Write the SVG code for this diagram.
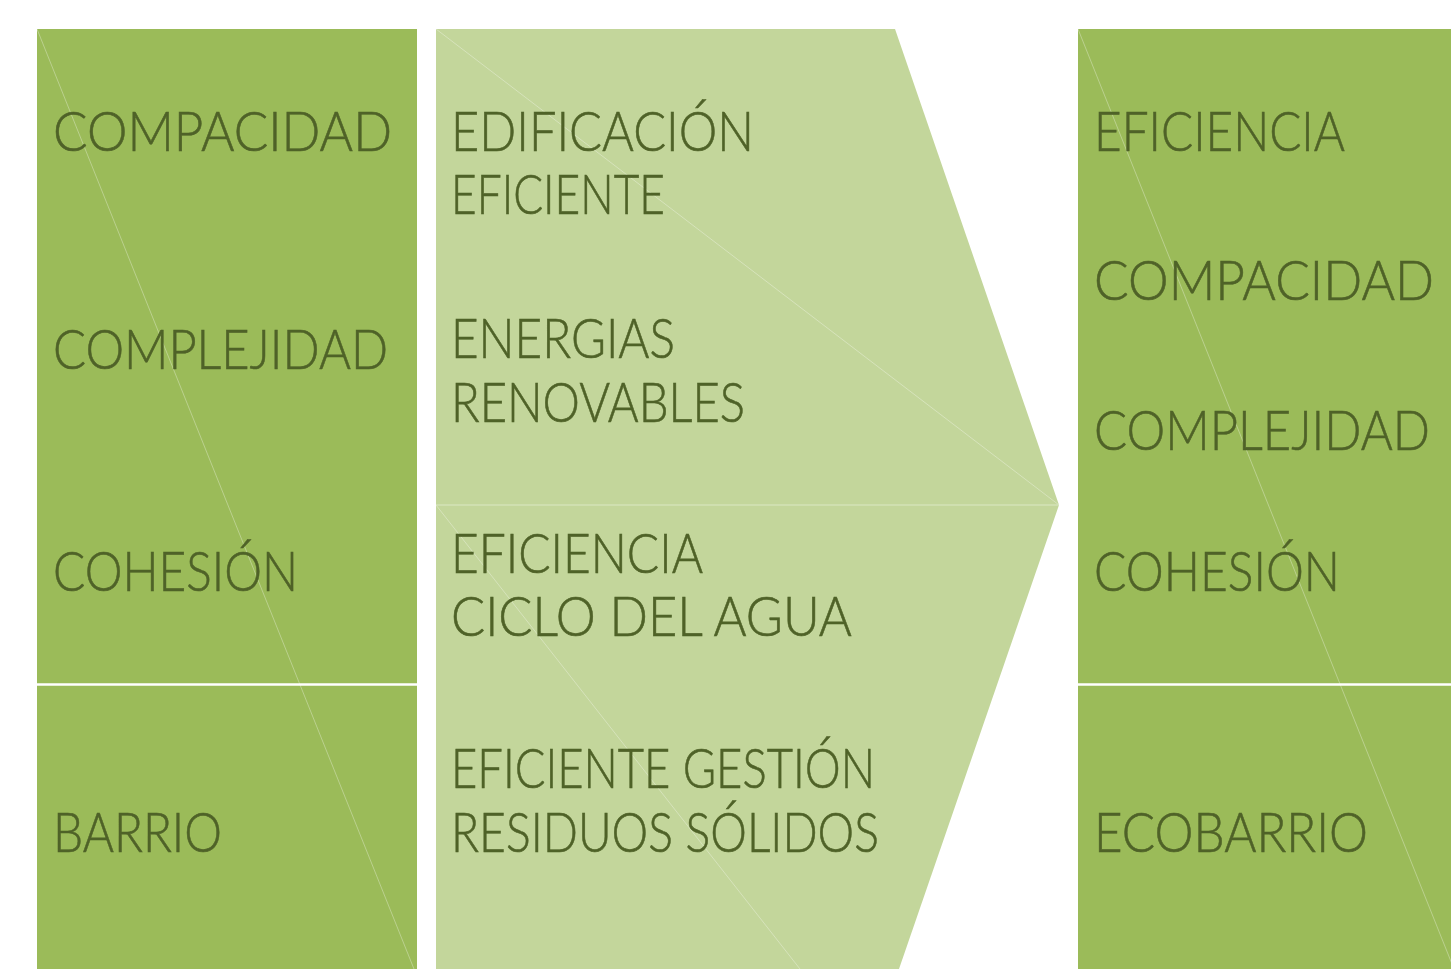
<svg xmlns="http://www.w3.org/2000/svg" width="1451" height="969" viewBox="0 0 1451 969">
  <style>
    .dark { fill: #9BBB59; }
    .light { fill: #C3D69B; }
    .diag { stroke: #ffffff; stroke-opacity: 0.4; stroke-width: 0.8; fill: none; }
    .sep { stroke: #ffffff; stroke-width: 2.5; fill: none; }
    .msep { stroke: #DCE8C4; stroke-width: 1.2; fill: none; }
    .t { font-family: "Lato", "Liberation Sans", sans-serif; font-weight: 300; font-size: 56px; fill: #4F6228; stroke: #4F6228; stroke-width: 0.6; }
  </style>
  <rect width="1451" height="969" fill="#ffffff"/>

  <g id="left-column">
    <rect class="dark" x="37" y="29" width="380" height="940"/>
    <line class="diag" x1="37" y1="29" x2="414" y2="969"/>
    <line class="sep" x1="37" y1="684.5" x2="417" y2="684.5"/>
    <text class="t" x="53" y="151" textLength="339" lengthAdjust="spacingAndGlyphs">COMPACIDAD</text>
    <text class="t" x="53" y="369" textLength="335" lengthAdjust="spacingAndGlyphs">COMPLEJIDAD</text>
    <text class="t" x="53" y="591" textLength="245" lengthAdjust="spacingAndGlyphs">COHESIÓN</text>
    <text class="t" x="53" y="852" textLength="169" lengthAdjust="spacingAndGlyphs">BARRIO</text>
  </g>

  <g id="middle-arrow">
    <polygon class="light" points="436,29 895,29 1059,505 436,505"/>
    <polygon class="light" points="436,505 1059,505 899,969 436,969"/>
    <line class="diag" x1="436" y1="29" x2="1059" y2="505"/>
    <line class="diag" x1="436" y1="505" x2="800" y2="969"/>
    <line class="msep" x1="436" y1="505" x2="1059" y2="505"/>
    <text class="t" x="451" y="151" textLength="303" lengthAdjust="spacingAndGlyphs">EDIFICACIÓN</text>
    <text class="t" x="451" y="214" textLength="214" lengthAdjust="spacingAndGlyphs">EFICIENTE</text>
    <text class="t" x="451" y="358" textLength="224" lengthAdjust="spacingAndGlyphs">ENERGIAS</text>
    <text class="t" x="451" y="422" textLength="294" lengthAdjust="spacingAndGlyphs">RENOVABLES</text>
    <text class="t" x="451" y="573" textLength="252" lengthAdjust="spacingAndGlyphs">EFICIENCIA</text>
    <text class="t" x="451" y="636" textLength="401" lengthAdjust="spacingAndGlyphs">CICLO DEL AGUA</text>
    <text class="t" x="451" y="788" textLength="424" lengthAdjust="spacingAndGlyphs">EFICIENTE GESTIÓN</text>
    <text class="t" x="451" y="852" textLength="428" lengthAdjust="spacingAndGlyphs">RESIDUOS SÓLIDOS</text>
  </g>

  <g id="right-column">
    <rect class="dark" x="1078" y="29" width="373" height="940"/>
    <line class="diag" x1="1078" y1="29" x2="1454" y2="969"/>
    <line class="sep" x1="1078" y1="684.5" x2="1451" y2="684.5"/>
    <text class="t" x="1094" y="151" textLength="251" lengthAdjust="spacingAndGlyphs">EFICIENCIA</text>
    <text class="t" x="1094" y="300" textLength="340" lengthAdjust="spacingAndGlyphs">COMPACIDAD</text>
    <text class="t" x="1094" y="450" textLength="336" lengthAdjust="spacingAndGlyphs">COMPLEJIDAD</text>
    <text class="t" x="1094" y="591" textLength="246" lengthAdjust="spacingAndGlyphs">COHESIÓN</text>
    <text class="t" x="1094" y="852" textLength="274" lengthAdjust="spacingAndGlyphs">ECOBARRIO</text>
  </g>

  <g id="connectors"></g>
</svg>
